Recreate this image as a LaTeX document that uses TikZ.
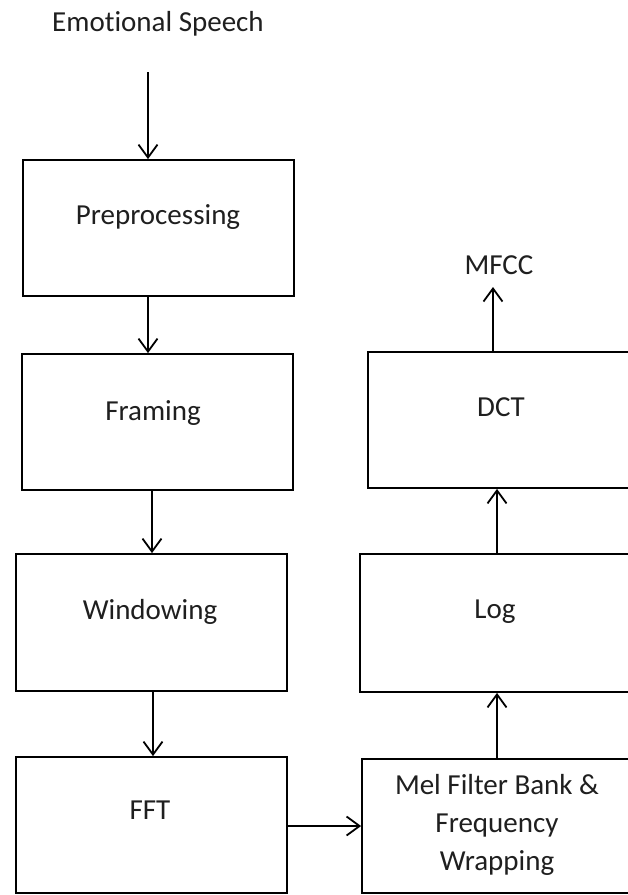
\documentclass[tikz,border=0pt]{standalone}
\usepackage{fontspec}
\setmainfont[Ligatures={NoCommon,NoDiscretionary}]{Carlito}
\usetikzlibrary{arrows.meta}
\begin{document}
\begin{tikzpicture}[x=1pt,y=-1pt,
  box/.style={draw=black, line width=1.8pt, rectangle, inner sep=0pt},
  txt/.style={font=\fontsize{29}{38}\selectfont, text=black!88, inner sep=0pt, align=center},
  arr/.style={draw=black, line width=1.8pt, -{Straight Barb[length=13pt,width=19pt,line width=1.8pt]}}]
\useasboundingbox (0,0) rectangle (628,895);
\clip (0,0) rectangle (628,895);
\fill[white] (0,0) rectangle (628,895);
% left column boxes
\node[box, minimum width=271pt, minimum height=136pt] (pre) at (158.5,228) {};
\node[box, minimum width=271pt, minimum height=136pt] (fra) at (157.5,422) {};
\node[box, minimum width=271pt, minimum height=137pt] (win) at (151.5,622.5) {};
\node[box, minimum width=271pt, minimum height=136pt] (fft) at (151.5,825) {};
% right column boxes (extend past the right edge)
\node[box, minimum width=280pt, minimum height=136pt] (dct) at (508,420) {};
\node[box, minimum width=290pt, minimum height=138pt] (log) at (505,623) {};
\node[box, minimum width=290pt, minimum height=134pt] (mel) at (507,826) {};
% texts
\node[txt] (es) at (158,24) {Emo{}tional Speech};
\node[txt] (preT) at (158,217) {Preprocessing};
\node[txt] (fraT) at (153,413) {Framing};
\node[txt] (winT) at (150,612) {Windowing};
\node[txt] (fftT) at (150,810) {FFT};
\node[txt] (dctT) at (501,407) {DCT};
\node[txt] (logT) at (495,612) {Log};
\node[txt] (melT) at (497,825) {Mel Filter Bank \&\\Frequency\\Wrapping};
\node[txt] (mfcc) at (499,265) {MFCC};
% connector anchors
\coordinate (esb) at (148,72);
\coordinate (c1) at (148,0);
\coordinate (c2) at (152,0);
\coordinate (c3) at (153,0);
\coordinate (c4) at (0,826);
\coordinate (c5) at (497,0);
\coordinate (c6) at (493,0);
\coordinate (mfb) at (493,287);
% connectors
\draw[arr] (esb) -- (esb |- pre.north);
\draw[arr] (c1 |- pre.south) -- (c1 |- fra.north);
\draw[arr] (c2 |- fra.south) -- (c2 |- win.north);
\draw[arr] (c3 |- win.south) -- (c3 |- fft.north);
\draw[arr] (fft.east |- c4) -- (mel.west |- c4);
\draw[arr] (c5 |- mel.north) -- (c5 |- log.south);
\draw[arr] (c5 |- log.north) -- (c5 |- dct.south);
\draw[arr] (c6 |- dct.north) -- (mfb);
\end{tikzpicture}
\end{document}
